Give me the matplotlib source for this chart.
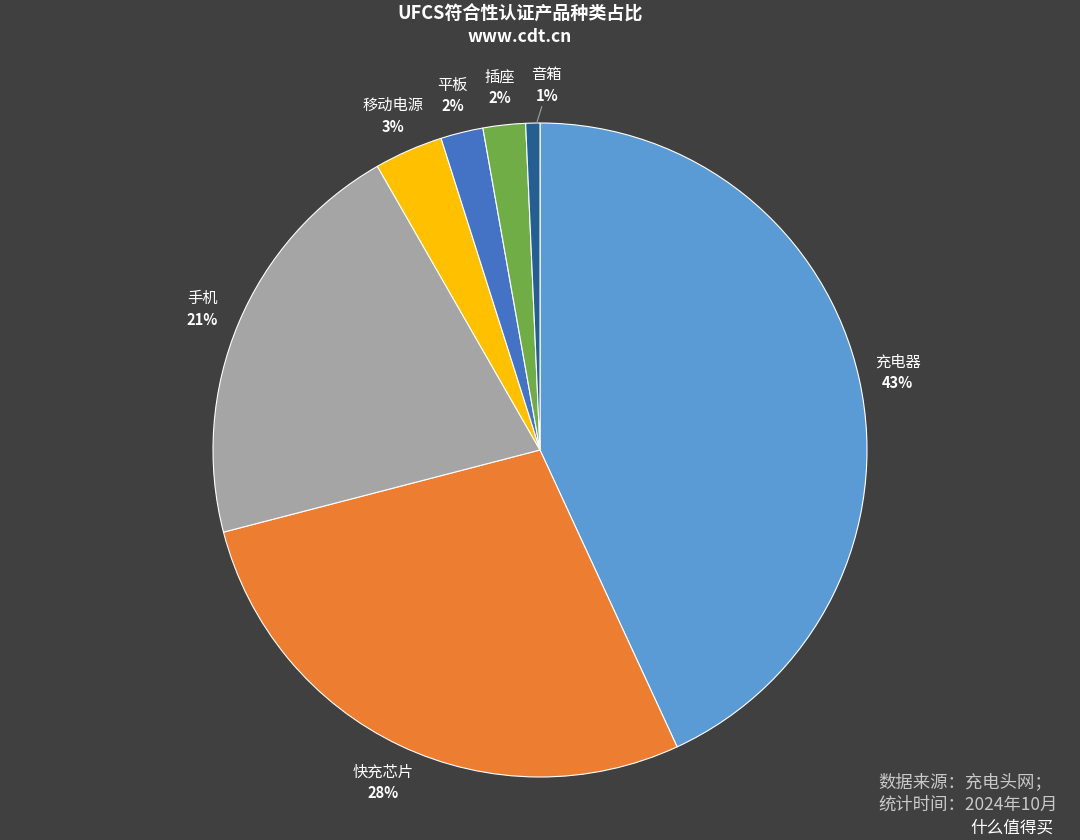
import numpy as np
import matplotlib.pyplot as plt

plt.rcParams['font.family'] = ['Noto Sans CJK SC', 'DejaVu Sans']

# share of UFCS certified products per category (%)
categories = ['充电器', '快充芯片', '手机', '移动电源', '平板', '插座', '音箱']
shares = [43.2, 27.9, 20.8, 3.4, 2.1, 2.1, 0.7]
colors = ['#5B9BD5', '#ED7D31', '#A5A5A5', '#FFC000', '#4472C4', '#70AD47', '#255E91']

bg = '#404040'
fig = plt.figure(figsize=(10.8, 8.4), dpi=100, facecolor=bg)

# pie centred at (540, 450) px with radius 327 px
r_px = 327
ax = fig.add_axes([(540 - r_px) / 1080, (840 - 450 - r_px) / 840,
                   2 * r_px / 1080, 2 * r_px / 840])
ax.set_facecolor(bg)
wedges, _ = ax.pie(shares, colors=colors, startangle=90, counterclock=False,
                   radius=1, wedgeprops=dict(edgecolor='white', linewidth=0.8))
ax.set_xlim(-1, 1)
ax.set_ylim(-1, 1)
ax.axis('off')

total = sum(shares)
for w, name, val in zip(wedges, categories, shares):
    mid = np.deg2rad((w.theta1 + w.theta2) / 2)
    d = 1.12
    x, y = d * np.cos(mid), d * np.sin(mid)
    if name == '音箱':
        x += 0.045
        ax.plot([x - 0.015, -0.01], [y - 0.07, 1.0], color='#a0a0a0', lw=0.8,
                clip_on=False)
    ax.text(x, y + 0.028, name, color='white', fontsize=11, ha='center',
            va='center')
    ax.text(x, y - 0.037, f'{round(val / total * 100)}%', color='white',
            fontsize=10.5, fontweight='bold', ha='center', va='center')

fig.text(520 / 1080, 1 - 14 / 840, 'UFCS符合性认证产品种类占比', color='white',
         fontsize=13, fontweight='bold', ha='center', va='center')
fig.text(520 / 1080, 1 - 37 / 840, 'www.cdt.cn', color='white', fontsize=12.5,
         fontweight='bold', ha='center', va='center')

fig.text(878 / 1080, 1 - 782 / 840, '数据来源：充电头网；', color='#c8c8c8',
         fontsize=12.5, ha='left', va='center')
fig.text(878 / 1080, 1 - 805 / 840, '统计时间：2024年10月', color='#c8c8c8',
         fontsize=12.5, ha='left', va='center')
fig.text(1012 / 1080, 1 - 828 / 840, '什么值得买', color='white',
         fontsize=12, ha='center', va='center')

fig.savefig('out.png', dpi=100, facecolor=bg)
